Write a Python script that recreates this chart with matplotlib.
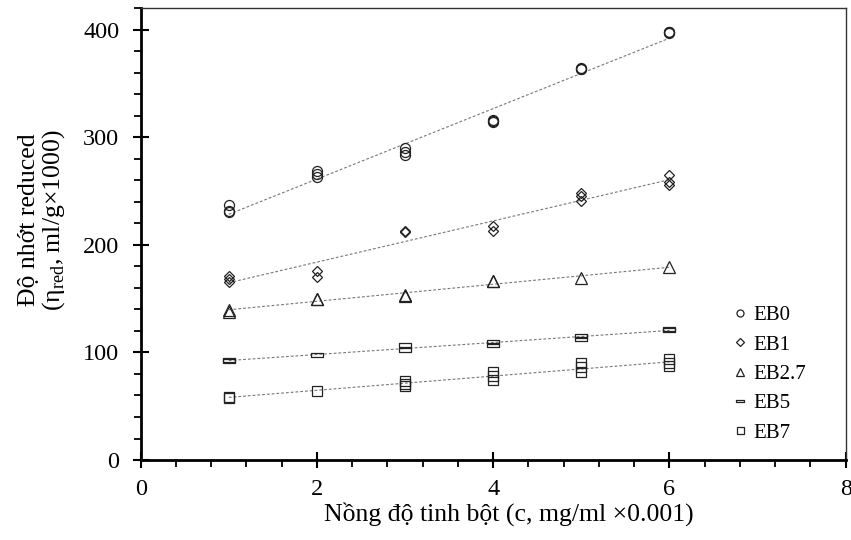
import numpy as np
import matplotlib
matplotlib.use("Agg")
import matplotlib.pyplot as plt
from matplotlib.path import Path
from matplotlib.ticker import MultipleLocator

plt.rcParams['font.family'] = ['Liberation Serif', 'DejaVu Serif']
plt.rcParams['mathtext.fontset'] = 'custom'
plt.rcParams['mathtext.rm'] = 'Liberation Serif'

# replicate readings per concentration (c = 1..6)
x_eb0 = [1, 1, 1, 2, 2, 2, 3, 3, 3, 4, 4, 4, 5, 5, 5, 6, 6, 6]
y_eb0 = [237, 231, 230, 269, 266, 263, 290, 286, 283, 315, 314, 316, 363, 364, 363, 398, 397, 398]

x_eb1 = [1, 1, 1, 2, 2, 3, 3, 4, 4, 5, 5, 5, 6, 6, 6]
y_eb1 = [171, 168, 165, 176, 170, 212, 213, 217, 213, 248, 245, 241, 265, 258, 256]

x_eb27 = [1, 1, 2, 2, 3, 3, 4, 4, 5, 6]
y_eb27 = [139, 138, 150, 150, 153, 152, 166, 166, 169, 179]

x_eb5 = [1, 1, 2, 3, 3, 4, 4, 5, 5, 6, 6]
y_eb5 = [93, 92, 98, 107, 102, 110, 107, 115, 112, 122, 121]

x_eb7 = [1, 1, 2, 3, 3, 3, 4, 4, 4, 5, 5, 5, 6, 6, 6]
y_eb7 = [59, 58, 64, 73, 71, 69, 82, 78, 74, 90, 86, 82, 94, 90, 87]

labels = ['EB0', 'EB1', 'EB2.7', 'EB5', 'EB7']

# flat rectangle marker used for EB5
flat = Path([(-1, -0.32), (1, -0.32), (1, 0.32), (-1, 0.32), (-1, -0.32)],
            [Path.MOVETO, Path.LINETO, Path.LINETO, Path.LINETO, Path.CLOSEPOLY])

series = [(x_eb0, y_eb0, 'o', 7.2),
          (x_eb1, y_eb1, 'D', 5.2),
          (x_eb27, y_eb27, '^', 8.0),
          (x_eb5, y_eb5, flat, 8.0),
          (x_eb7, y_eb7, 's', 7.2)]

fig = plt.figure(figsize=(8.51, 5.40), dpi=100)
ax = fig.add_axes([0.1653, 0.1481, 0.8285, 0.8371])

for (xs, ys, mk, ms), lab in zip(series, labels):
    xs = np.array(xs, dtype=float)
    ys = np.array(ys, dtype=float)
    ax.plot(xs, ys, linestyle='none', marker=mk, markersize=ms,
            markerfacecolor='none', markeredgecolor='#222222',
            markeredgewidth=0.9, label=lab)
    k, b = np.polyfit(xs, ys, 1)
    xf = np.array([xs.min(), xs.max()])
    ax.plot(xf, k * xf + b, linestyle=(0, (2.5, 1.8)), color='#777777',
            linewidth=0.8, zorder=1)

ax.set_xlim(0, 8)
ax.set_ylim(0, 420)
ax.xaxis.set_major_locator(MultipleLocator(2))
ax.xaxis.set_minor_locator(MultipleLocator(0.4))
ax.yaxis.set_major_locator(MultipleLocator(100))
ax.yaxis.set_minor_locator(MultipleLocator(20))

ax.spines['left'].set_linewidth(2.0)
ax.spines['bottom'].set_linewidth(2.0)
ax.spines['top'].set_linewidth(1.0)
ax.spines['right'].set_linewidth(1.0)
ax.spines['top'].set_color('#333333')
ax.spines['right'].set_color('#333333')

ax.tick_params(axis='x', which='major', direction='inout', length=11, width=1.5,
               labelsize=17.5, pad=8)
ax.tick_params(axis='x', which='minor', direction='out', length=5, width=1.3)
ax.tick_params(axis='y', which='major', direction='inout', length=11, width=1.5,
               labelsize=17.5, pad=10)
ax.tick_params(axis='y', which='minor', direction='out', length=5, width=1.3)

ax.set_xlabel('Nồng độ tinh bột (c, mg/ml ×0.001)', fontsize=18.5)
ax.xaxis.set_label_coords(0.522, -0.092)
ax.set_ylabel('Độ nhớt reduced\n(η$_{\\rm red}$, ml/g×1000)', fontsize=18.5,
              linespacing=1.0)
ax.yaxis.set_label_coords(-0.105, 0.531)

ax.legend(loc='upper left', bbox_to_anchor=(0.83, 0.36), frameon=False,
          fontsize=15, markerscale=0.7, handlelength=0.6, handletextpad=0.3,
          labelspacing=0.47, borderaxespad=0)

fig.savefig('out.png', dpi=100)
